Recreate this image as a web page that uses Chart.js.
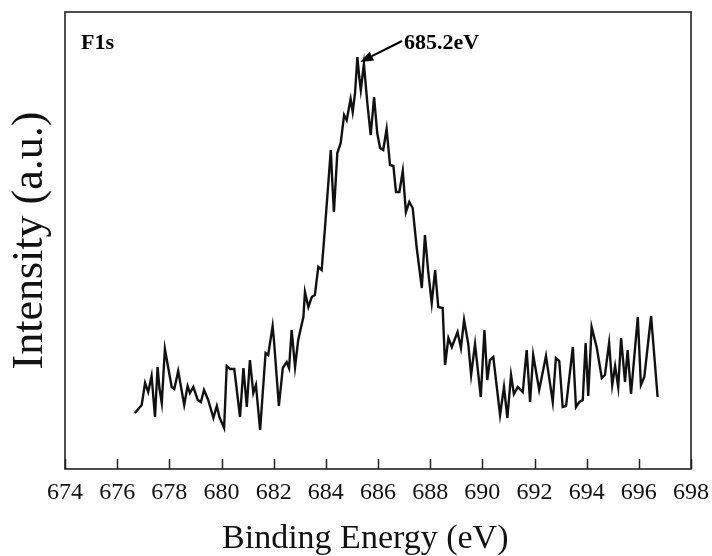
<!DOCTYPE html>
<html>
<head>
<meta charset="utf-8">
<script src="https://cdn.jsdelivr.net/npm/chart.js@4.4.1/dist/chart.umd.min.js"></script>
<style>
html,body{margin:0;padding:0;background:#fff;}
#wrap{width:712px;height:556px;}
</style>
</head>
<body>
<div id="wrap"><canvas id="c" width="712" height="556"></canvas></div>
<script>
const energy = [676.68,676.94,677.07,677.19,677.32,677.45,677.55,677.62,677.71,677.83,678.09,678.19,678.34,678.57,678.70,678.79,678.92,679.09,679.21,679.33,679.49,679.69,679.82,679.92,680.10,680.20,680.33,680.49,680.71,680.84,680.97,681.09,681.22,681.32,681.48,681.69,681.79,681.96,682.01,682.20,682.35,682.50,682.59,682.69,682.82,682.94,683.14,683.20,683.33,683.46,683.58,683.71,683.84,683.97,684.19,684.26,684.31,684.44,684.57,684.70,684.80,684.95,685.03,685.12,685.21,685.28,685.34,685.46,685.59,685.72,685.85,685.97,686.08,686.20,686.33,686.46,686.59,686.69,686.82,686.95,687.07,687.20,687.33,687.48,687.68,687.80,687.93,688.06,688.19,688.31,688.48,688.57,688.70,688.83,689.05,689.18,689.30,689.46,689.57,689.72,689.94,690.08,690.19,690.29,690.42,690.68,690.83,690.96,691.10,691.21,691.36,691.55,691.70,691.83,691.95,692.18,692.44,692.70,692.82,692.95,693.08,693.21,693.47,693.59,693.72,693.85,693.96,694.06,694.19,694.39,694.58,694.70,694.86,694.98,695.09,695.21,695.32,695.47,695.57,695.70,695.96,696.08,696.21,696.47,696.72];
const intensity = [56,64,86,77,93,52,102,81,66,120,82,80,98,64,83,76,82,69,67,79,69,51,63,52,41,103,100,100,52,101,62,109,76,84,39,116,114,143,129,63,101,107,101,139,102,129,152,177,162,172,174,202,199,242,319,281,257,316,326,354,349,370,357,376,412,392,379,405,366,334,372,336,321,319,340,304,303,277,277,298,257,267,261,222,181,234,196,166,199,162,161,104,131,122,137,121,149,125,94,125,72,139,89,109,112,54,82,51,94,75,82,77,119,67,114,79,113,67,111,108,62,63,122,62,67,69,126,73,142,121,91,94,126,84,103,82,131,87,119,75,152,84,92,153,72];
const xTickValues = [674,676,678,680,682,684,686,688,690,692,694,696,698];
const xTitle = 'Binding Energy (eV)\u00a0\u00a0\u00a0';
const yTitle = 'Intensity (a.u.)';
const seriesLabel = 'F1s';
const peakLabel = '685.2eV';
const peakPoint = {x: 685.32, y: 407};

const serif = "'Liberation Serif','Times New Roman',serif";

const framePlugin = {
  id: 'frame',
  afterDatasetsDraw(chart) {
    const {ctx, chartArea: a, scales: {x, y}} = chart;
    ctx.save();
    ctx.strokeStyle = '#222';
    ctx.lineWidth = 1.5;
    ctx.beginPath();
    xTickValues.forEach(v => {
      const px = Math.round(x.getPixelForValue(v)) + 0.5;
      ctx.moveTo(px, a.bottom);
      ctx.lineTo(px, a.bottom - 10);
    });
    ctx.stroke();
    ctx.lineWidth = 1.6;
    ctx.strokeRect(a.left, a.top, a.right - a.left, a.bottom - a.top);
    ctx.fillStyle = '#000';
    ctx.font = "bold 22px " + serif;
    ctx.textBaseline = 'alphabetic';
    ctx.textAlign = 'left';
    ctx.fillText(seriesLabel, a.left + 16, a.top + 37);
    const tx = x.getPixelForValue(peakPoint.x);
    const ty = y.getPixelForValue(peakPoint.y);
    const sx = 402, sy = 41;
    ctx.fillText(peakLabel, sx + 2, a.top + 37);
    const ang = Math.atan2(ty - sy, tx - sx);
    const hl = 13, hw = 5;
    const bx = tx - hl * Math.cos(ang), by = ty - hl * Math.sin(ang);
    ctx.strokeStyle = '#000';
    ctx.lineWidth = 2;
    ctx.beginPath();
    ctx.moveTo(sx, sy);
    ctx.lineTo(bx, by);
    ctx.stroke();
    ctx.beginPath();
    ctx.moveTo(tx, ty);
    ctx.lineTo(bx + hw * Math.sin(ang), by - hw * Math.cos(ang));
    ctx.lineTo(bx - hw * Math.sin(ang), by + hw * Math.cos(ang));
    ctx.closePath();
    ctx.fill();
    ctx.restore();
  }
};

new Chart(document.getElementById('c'), {
  type: 'line',
  data: {
    datasets: [{
      label: seriesLabel,
      data: energy.map((e, i) => ({x: e, y: intensity[i]})),
      borderColor: '#111',
      borderWidth: 2.4,
      pointRadius: 0,
      tension: 0,
      fill: false
    }]
  },
  options: {
    responsive: false,
    animation: false,
    devicePixelRatio: 1,
    layout: {padding: {top: 12, right: 21, left: 0, bottom: 0}},
    plugins: {legend: {display: false}, tooltip: {enabled: false}},
    scales: {
      x: {
        type: 'linear',
        min: 674, max: 698,
        afterBuildTicks(scale) { scale.ticks = xTickValues.map(v => ({value: v})); },
        grid: {display: false, drawTicks: false},
        border: {display: false},
        ticks: {
          color: '#111', padding: 0, maxRotation: 0, autoSkip: false,
          font: {family: serif, size: 24, lineHeight: 2},
          callback: v => String(v)
        },
        title: {
          display: true, text: xTitle, color: '#111',
          font: {family: serif, size: 34, lineHeight: 1},
          padding: {top: 5, bottom: 0}
        }
      },
      y: {
        min: 0, max: 457,
        grid: {display: false, drawTicks: false},
        border: {display: false},
        ticks: {display: false},
        title: {
          display: true, text: yTitle, color: '#111',
          font: {family: serif, size: 44, lineHeight: 1},
          padding: {top: 8, bottom: 13}
        }
      }
    }
  },
  plugins: [framePlugin]
});
</script>
</body>
</html>
